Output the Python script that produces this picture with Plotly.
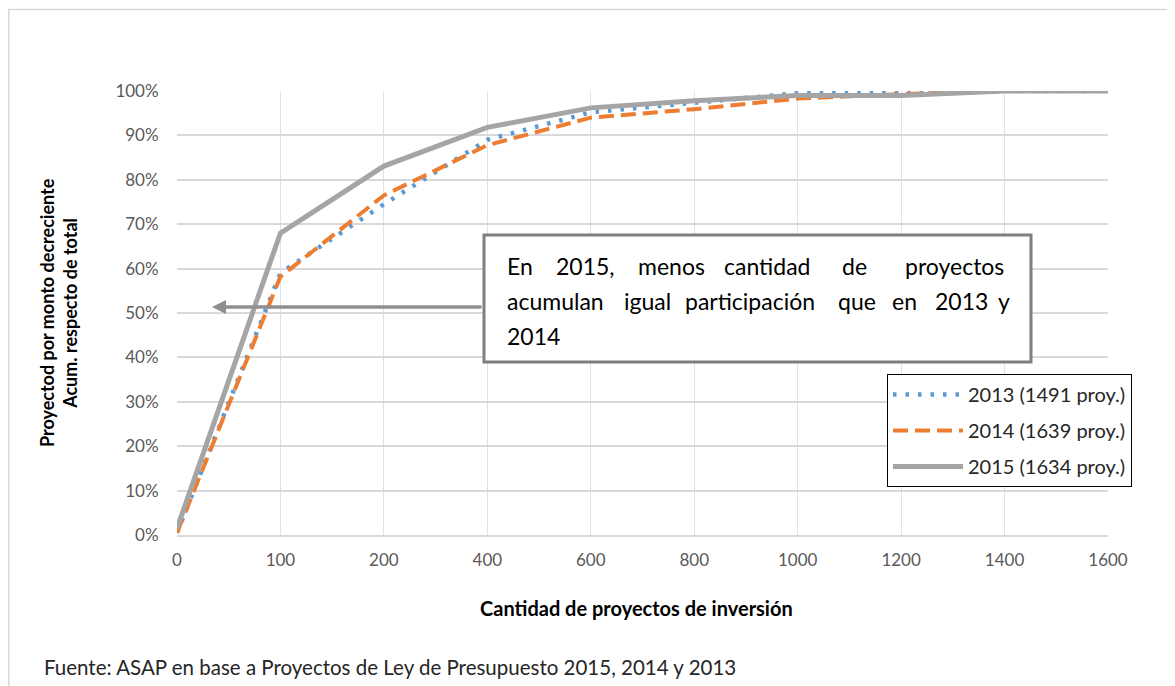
import plotly.graph_objects as go

categories = ["0", "100", "200", "400", "600", "800", "1000", "1200", "1400", "1600"]
serie_2013 = [0.005, 0.59, 0.745, 0.89, 0.952, 0.973, 0.995, 1.0, 1.0, 1.0]
serie_2014 = [0.005, 0.582, 0.765, 0.878, 0.94, 0.959, 0.983, 0.993, 1.0, 1.0]
serie_2015 = [0.015, 0.68, 0.831, 0.918, 0.962, 0.978, 0.99, 0.99, 1.0, 1.0]
names = ["2013 (1491 proy.)", "2014 (1639 proy.)", "2015 (1634 proy.)"]

# The page body adds an 8px margin; the figure is sized/positioned to compensate
OFF = 8
W, H = 1175 - OFF, 686 - OFF
PX0, PX1, PY0, PY1 = 177, 1108, 91, 535   # plot area in screen pixels
PW, PH = PX1 - PX0, PY1 - PY0
L, T = PX0 - OFF, PY0 - OFF
R, B = W - L - PW, H - T - PH

def px(x):
    return (x - PX0) / PW

def py(y):
    return (PY1 - y) / PH

FONT = "Lato"

fig = go.Figure()
fig.add_trace(go.Scatter(x=categories, y=serie_2013, name=names[0], mode="lines",
                         legendgroup="a",
                         line=dict(color="#5b9bd5", width=4.5, dash="3.5px,9px")))
fig.add_trace(go.Scatter(x=categories, y=serie_2014, name=names[1], mode="lines",
                         legendgroup="b",
                         line=dict(color="#ed7d31", width=4, dash="15px,7px")))
fig.add_trace(go.Scatter(x=categories, y=serie_2015, name=names[2], mode="lines",
                         legendgroup="c",
                         line=dict(color="#a5a5a5", width=5)))

annotations = []
# Justified text in the box, word by word
words = [
    (266, [("En", 505), ("2015,", 554), ("menos", 636), ("cantidad", 722), ("de", 840), ("proyectos", 903)]),
    (301, [("acumulan", 505), ("igual", 622), ("participación", 683), ("que", 836), ("en", 890), ("2013", 933), ("y", 996)]),
    (336, [("2014", 505)]),
]
for yy, ws in words:
    for w, xx in ws:
        annotations.append(dict(text=w, x=px(xx), y=py(yy), xref="paper", yref="paper",
                                xanchor="left", yanchor="middle", showarrow=False,
                                font=dict(family=FONT, size=23, color="#000000")))

# Arrow from the box to the curves
annotations.append(dict(text="", x=px(212), y=py(307), xref="paper", yref="paper",
                        ax=483 - 212, ay=0, axref="pixel", ayref="pixel",
                        showarrow=True, arrowhead=2, arrowsize=0.8, arrowwidth=3.5,
                        arrowcolor="#8f8f8f", standoff=0, startstandoff=0))

# Axis titles and source
annotations.append(dict(text="<b>Proyectod por monto decreciente</b><br><b>Acum. respecto de total</b>",
                        x=px(58), y=py(313), xref="paper", yref="paper", textangle=-90,
                        xanchor="center", yanchor="middle", showarrow=False,
                        font=dict(family=FONT, size=18, color="#000000")))
annotations.append(dict(text="<b>Cantidad de proyectos de inversión</b>",
                        x=px(636), y=py(608), xref="paper", yref="paper",
                        xanchor="center", yanchor="middle", showarrow=False,
                        font=dict(family=FONT, size=20, color="#000000")))
annotations.append(dict(text="Fuente: ASAP en base a Proyectos de Ley de Presupuesto 2015, 2014 y 2013",
                        x=px(42), y=py(667), xref="paper", yref="paper",
                        xanchor="left", yanchor="middle", showarrow=False,
                        font=dict(family=FONT, size=20.5, color="#262626")))

shapes = [
    # outer frame of the chart
    dict(type="rect", xref="paper", yref="paper", x0=px(OFF + 0.8), x1=px(1400), y0=py(900), y1=py(9.5),
         line=dict(color="#d9d9d9", width=1.5), fillcolor="rgba(0,0,0,0)", layer="below"),
    # text box
    dict(type="rect", xref="paper", yref="paper", x0=px(484), x1=px(1031), y0=py(362), y1=py(235),
         line=dict(color="#7f7f7f", width=3), fillcolor="#ffffff", layer="above"),
]

fig.update_layout(
    width=W, height=H,
    margin=dict(l=L, r=R, t=T, b=B, pad=0),
    paper_bgcolor="#ffffff", plot_bgcolor="#ffffff",
    font=dict(family=FONT, size=17, color="#595959"),
    showlegend=True,
    legend=dict(x=px(887), y=py(374), xanchor="left", yanchor="top",
                bgcolor="#ffffff", bordercolor="#000000", borderwidth=1,
                font=dict(family=FONT, size=20, color="#262626"),
                itemwidth=70, tracegroupgap=7, traceorder="grouped"),
    annotations=annotations,
    shapes=shapes,
)
fig.update_xaxes(type="category", range=[0, 9], showgrid=True, gridcolor="#d6e3f3", gridwidth=1,
                 showline=True, linecolor="#d9d9d9", linewidth=1.5, zeroline=False,
                 ticks="outside", ticklen=9, tickcolor="rgba(0,0,0,0)",
                 tickfont=dict(family=FONT, size=17, color="#595959"), fixedrange=True)
fig.update_yaxes(range=[0, 1], dtick=0.1, tick0=0, tickformat=".0%", showgrid=True,
                 gridcolor="#d9d9d9", gridwidth=1.5, zeroline=False, showline=False,
                 ticks="outside", ticklen=14, tickcolor="rgba(0,0,0,0)",
                 tickfont=dict(family=FONT, size=17, color="#595959"), fixedrange=True)

fig.write_html("out.html")
